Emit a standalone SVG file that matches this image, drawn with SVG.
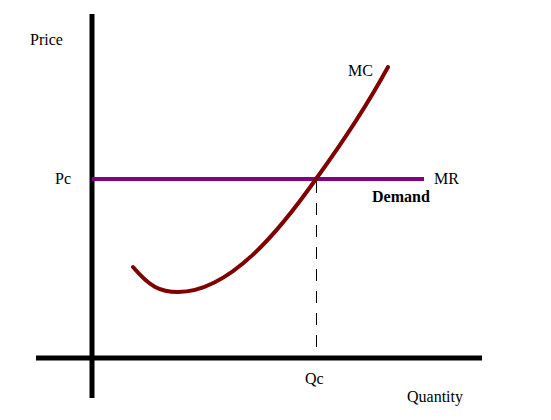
<svg xmlns="http://www.w3.org/2000/svg" width="551" height="420" viewBox="0 0 551 420">
<style>
text{font-family:"Liberation Serif","Times New Roman",serif;font-size:16px;fill:#000}
.axis{stroke:#000;stroke-width:5;fill:none}
</style>
<rect width="551" height="420" fill="#fff"/>
<g id="axes">
<line class="axis" x1="92" y1="14" x2="92" y2="398"/>
<line class="axis" x1="36" y1="358" x2="482" y2="358"/>
</g>
<g id="connectors">
<line x1="316.5" y1="181" x2="316.5" y2="358" stroke="#000" stroke-width="1" stroke-dasharray="12,10"/>
</g>
<g id="mr">
<line x1="92" y1="179" x2="424" y2="179" stroke="#800080" stroke-width="4"/>
</g>
<g id="mc">
<path d="M133,267 C150,287 160,292 178,292 C230,292 280,230 316,179 C345,139 370,100 388,67" fill="none" stroke="#800000" stroke-width="4" stroke-linecap="round"/>
</g>
<g id="labels">
<text x="30" y="45">Price</text>
<text x="55" y="184">Pc</text>
<text x="348" y="76">MC</text>
<text x="434" y="184">MR</text>
<text x="372" y="202" font-weight="bold">Demand</text>
<text x="305" y="384">Qc</text>
<text x="407" y="402">Quantity</text>
</g>
</svg>
